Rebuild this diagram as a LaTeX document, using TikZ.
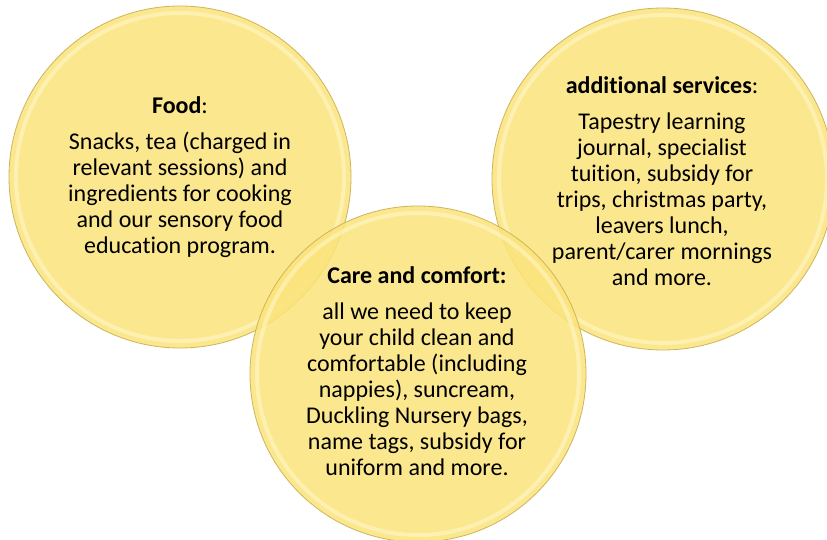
\documentclass[tikz,border=0pt]{standalone}
\usepackage{fontspec}
\setmainfont{Carlito}[Ligatures=NoCommon]
\definecolor{discfill}{HTML}{FBE47C}
\definecolor{discedge}{HTML}{CDB55A}
\definecolor{disclight}{HTML}{FFF6C8}
\tikzset{
  disc/.style={circle, minimum size=#1, inner sep=0pt, fill=discfill, fill opacity=0.86, draw=discedge, line width=0.8pt},
  discring/.style={circle, minimum size=#1, inner sep=0pt, draw=disclight, draw opacity=0.6, line width=4pt},
  txt/.style={align=center, text=black, font=\fontsize{24}{26}\selectfont, inner sep=0pt}
}
\begin{document}
\begin{tikzpicture}[x=1pt,y=-1pt]
\useasboundingbox (0,0) rectangle (827,540);
\clip (0,0) rectangle (827,540);
\fill[white] (0,0) rectangle (827,540);
\node[disc=342pt] (foodc) at (180,177) {};
\node[discring=328pt] (foodr) at (180,177) {};
\node[disc=342pt] (servc) at (663,179) {};
\node[discring=328pt] (servr) at (663,179) {};
\node[disc=336pt] (carec) at (418,374) {};
\node[discring=322pt] (carer) at (418,374) {};
\node[txt] (foodt) at (180,177) {\textbf{Food}:\\[10pt]Snacks, tea (charged in\\relevant sessions) and\\ingredients for cooking\\and our sensory food\\education program.};
\node[txt] (servt) at (662,181) {\textbf{additional services}:\\[10pt]Tapestry learning\\journal, specialist\\tuition, subsidy for\\trips, christmas party,\\leavers lunch,\\parent/carer mornings\\and more.};
\node[txt] (caret) at (417,371) {\textbf{Care and comfort:}\\[10pt]all we need to keep\\your child clean and\\comfortable (including\\nappies), suncream,\\Duckling Nursery bags,\\name tags, subsidy for\\uniform and more.};
\end{tikzpicture}
\end{document}
